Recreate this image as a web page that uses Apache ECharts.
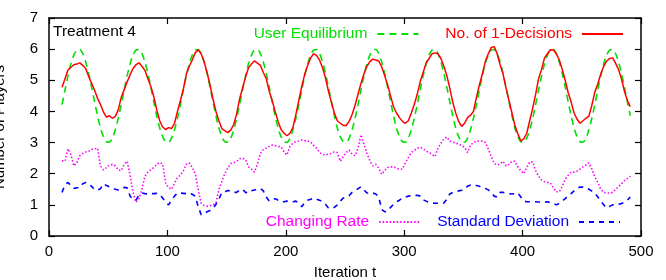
<!DOCTYPE html>
<html>
<head>
<meta charset="utf-8">
<script src="https://cdn.jsdelivr.net/npm/echarts@6/dist/echarts.min.js"></script>
<style>html,body{margin:0;padding:0;background:#fff}#c{width:666px;height:280px}</style>
</head>
<body>
<div id="c"></div>
<script>
// Samples every 2.5 iterations starting at t = 11
const tStart = 11;
const tStep = 2.5;

const xTicks = [0, 100, 200, 300, 400, 500];
const yTicks = [0, 1, 2, 3, 4, 5, 6, 7];

const userEquilibrium = [
  4.22,4.69,5.14,5.53,5.81,5.97,5.99,5.86,5.59,5.22,4.78,4.31,3.86,3.47,3.19,3.03,3.01,3.14,3.41,3.78,
  4.22,4.69,5.14,5.53,5.81,5.97,5.99,5.86,5.59,5.22,4.78,4.31,3.86,3.47,3.19,3.03,3.01,3.14,3.41,3.78,
  4.22,4.69,5.14,5.53,5.81,5.97,5.99,5.86,5.59,5.22,4.78,4.31,3.86,3.47,3.19,3.03,3.01,3.14,3.41,3.78,
  4.22,4.69,5.14,5.53,5.81,5.97,5.99,5.86,5.59,5.22,4.78,4.31,3.86,3.47,3.19,3.03,3.01,3.14,3.41,3.78,
  4.22,4.69,5.14,5.53,5.81,5.97,5.99,5.86,5.59,5.22,4.78,4.31,3.86,3.47,3.19,3.03,3.01,3.14,3.41,3.78,
  4.22,4.69,5.14,5.53,5.81,5.97,5.99,5.86,5.59,5.22,4.78,4.31,3.86,3.47,3.19,3.03,3.01,3.14,3.41,3.78,
  4.22,4.69,5.14,5.53,5.81,5.97,5.99,5.86,5.59,5.22,4.78,4.31,3.86,3.47,3.19,3.03,3.01,3.14,3.41,3.78,
  4.22,4.69,5.14,5.53,5.81,5.97,5.99,5.86,5.59,5.22,4.78,4.31,3.86,3.47,3.19,3.03,3.01,3.14,3.41,3.78,
  4.22,4.69,5.14,5.53,5.81,5.97,5.99,5.86,5.59,5.22,4.78,4.31,3.86,3.47,3.19,3.03,3.01,3.14,3.41,3.78,
  4.22,4.69,5.14,5.53,5.81,5.97,5.99,5.86,5.59,5.22,4.78,4.31,3.86
];

const oneDecisions = [
  4.78,5.05,5.33,5.42,5.50,5.52,5.56,5.48,5.38,5.12,
  4.90,4.68,4.42,4.22,3.98,3.82,3.86,3.78,3.84,4.05,
  4.45,4.70,4.95,5.18,5.38,5.50,5.56,5.45,5.32,5.05,
  4.80,4.48,4.05,3.70,3.50,3.42,3.48,3.45,3.62,4.00,
  4.35,4.72,5.20,5.45,5.65,5.88,5.98,5.85,5.60,5.25,
  4.85,4.40,4.00,3.70,3.45,3.38,3.32,3.40,3.58,3.92,
  4.40,4.75,5.10,5.40,5.52,5.62,5.55,5.48,5.25,5.05,
  4.65,4.35,4.00,3.68,3.42,3.30,3.22,3.30,3.48,3.90,
  4.35,4.80,5.20,5.48,5.72,5.85,5.80,5.65,5.40,5.08,
  4.65,4.30,3.95,3.70,3.62,3.55,3.55,3.68,3.90,4.20,
  4.55,4.90,5.20,5.45,5.60,5.68,5.65,5.62,5.43,5.15,
  4.85,4.50,4.15,3.95,3.80,3.68,3.62,3.70,3.95,4.22,
  4.55,4.95,5.25,5.55,5.70,5.85,5.88,5.85,5.70,5.45,
  5.15,4.75,4.30,3.95,3.68,3.52,3.62,3.80,3.88,4.00,
  4.45,4.85,5.20,5.60,5.85,6.05,6.08,5.85,5.50,5.20,
  4.75,4.35,3.95,3.55,3.28,3.05,3.12,3.30,3.70,4.10,
  4.55,5.05,5.35,5.72,5.85,5.98,5.97,5.85,5.65,5.35,
  5.00,4.60,4.30,3.95,3.75,3.62,3.70,3.78,3.85,4.20,
  4.62,4.88,5.20,5.45,5.62,5.70,5.72,5.55,5.35,5.05,
  4.65,4.35,4.15
];

const changingRate = [
  2.42,2.40,2.80,2.62,2.25,2.35,2.58,2.65,2.70,2.72,
  2.78,2.80,2.82,2.25,2.12,2.20,2.28,2.30,2.25,2.12,
  2.10,2.30,2.40,1.96,1.40,1.08,1.20,1.50,1.92,2.05,
  2.12,2.20,2.30,2.36,2.32,1.70,1.55,1.50,1.70,1.88,
  1.95,2.10,2.30,2.35,2.20,2.00,1.50,1.05,0.98,0.96,
  0.97,1.00,1.05,1.50,1.75,2.00,2.18,2.33,2.35,2.40,
  2.48,2.50,2.45,2.22,2.15,2.05,2.30,2.65,2.78,2.82,
  2.88,2.92,2.90,2.88,2.86,2.70,2.60,2.88,2.98,3.03,
  3.05,3.08,3.06,3.05,3.02,2.90,2.82,2.68,2.62,2.60,
  2.63,2.65,2.70,2.68,2.40,2.55,2.68,2.76,2.62,2.58,
  2.82,3.25,2.95,2.65,2.42,2.25,2.30,2.18,1.98,2.10,
  2.20,2.22,2.22,2.18,2.14,2.15,2.35,2.52,2.68,2.75,
  2.82,2.85,2.80,2.73,2.68,2.62,2.55,2.82,2.98,3.12,
  3.18,3.05,3.02,2.98,2.96,2.90,2.85,2.68,2.92,3.00,
  3.05,3.04,3.05,3.00,2.80,2.55,2.33,2.28,2.32,2.40,
  2.25,2.30,2.40,2.40,2.22,2.10,2.00,2.20,2.38,2.38,
  2.10,1.92,1.80,1.74,1.72,1.70,1.55,1.42,1.42,1.60,
  1.82,1.95,2.05,2.05,2.08,2.15,2.22,2.28,2.35,2.15,
  1.90,1.72,1.50,1.40,1.38,1.38,1.40,1.50,1.58,1.68,
  1.78,1.85,1.92
];

const stdDeviation = [
  1.40,1.65,1.72,1.62,1.53,1.55,1.55,1.68,1.72,1.65,
  1.60,1.48,1.48,1.52,1.68,1.62,1.58,1.55,1.50,1.48,
  1.52,1.56,1.55,1.28,1.18,1.15,1.32,1.38,1.36,1.35,
  1.36,1.36,1.37,1.33,1.22,1.08,1.00,1.15,1.28,1.38,
  1.38,1.37,1.36,1.38,1.34,1.28,0.95,0.68,0.72,0.78,
  0.82,0.88,1.02,1.18,1.40,1.42,1.46,1.45,1.40,1.40,
  1.48,1.50,1.40,1.38,1.45,1.48,1.50,1.53,1.45,1.25,
  1.12,1.15,1.20,1.15,1.10,1.10,1.12,1.10,1.10,1.12,
  1.05,0.94,1.08,1.15,1.18,1.22,1.18,1.15,1.10,1.02,
  0.90,0.90,0.92,1.00,1.12,1.22,1.25,1.30,1.40,1.45,
  1.52,1.58,1.48,1.38,1.38,1.38,1.35,1.25,0.85,0.78,
  0.80,0.92,1.02,1.10,1.15,1.22,1.25,1.28,1.30,1.30,
  1.31,1.28,1.16,1.12,1.08,1.06,1.05,1.05,1.05,1.06,
  1.18,1.35,1.40,1.42,1.45,1.47,1.50,1.60,1.64,1.63,
  1.62,1.60,1.56,1.53,1.48,1.40,1.28,1.25,1.40,1.40,
  1.38,1.36,1.35,1.36,1.38,1.25,1.12,1.10,1.10,1.10,
  1.10,1.09,1.08,1.09,1.10,1.07,1.04,1.00,1.05,1.12,
  1.20,1.30,1.36,1.45,1.53,1.57,1.57,1.55,1.50,1.44,
  1.38,1.25,1.12,1.00,0.90,0.95,1.00,1.00,1.02,1.04,
  1.08,1.15,1.25
];

const FONT = 'Liberation Sans, Arial, Helvetica, sans-serif';
const GREEN = '#00e000', RED = '#ff0000', MAGENTA = '#ff00ff', BLUE = '#0000ff';

function pairs(vals) { return vals.map((v, i) => [tStart + i * tStep, v]); }

const chart = echarts.init(document.getElementById('c'), null, { renderer: 'canvas' });

const axisCommon = {
  type: 'value',
  axisLine: { show: true, onZero: false, lineStyle: { color: '#000', width: 1.5 } },
  axisTick: { show: true, inside: true, length: 6, lineStyle: { color: '#000', width: 1.2 } },
  splitLine: { show: false },
  axisLabel: { color: '#000', fontSize: 15, fontFamily: FONT }
};

const legendCommon = {
  align: 'right', itemWidth: 41, itemHeight: 14, icon: 'inherit',
  itemStyle: { opacity: 0, borderWidth: 0 },
  textStyle: { fontSize: 15.5, fontFamily: FONT, padding: [0, 5, 0, 0] }
};

const option = {
  animation: false,
  backgroundColor: '#fff',
  textStyle: { fontFamily: FONT },
  grid: { left: 49, right: 25, top: 18, bottom: 44, show: false, containLabel: false, outerBoundsMode: 'none' },
  title: {
    text: 'Treatment 4', left: 53, top: 24, padding: 0,
    textStyle: { fontSize: 15.5, fontWeight: 'normal', color: '#000', fontFamily: FONT }
  },
  legend: [
    Object.assign({}, legendCommon, {
      right: 37, top: 21, itemGap: 26,
      data: [
        { name: 'User Equilibrium', textStyle: { color: GREEN } },
        { name: 'No. of 1-Decisions', textStyle: { color: RED } }
      ]
    }),
    Object.assign({}, legendCommon, {
      right: 40, top: 209, itemGap: 16,
      data: [
        { name: 'Changing Rate', textStyle: { color: MAGENTA } },
        { name: 'Standard Deviation', textStyle: { color: BLUE } }
      ]
    })
  ],
  xAxis: [
    Object.assign({}, axisCommon, {
      min: 0, max: 500, interval: 100, position: 'bottom',
      axisLabel: Object.assign({}, axisCommon.axisLabel, { margin: 8,
        formatter: v => xTicks.includes(v) ? String(v) : '' }),
      name: 'Iteration t', nameLocation: 'middle', nameGap: 29,
      nameTextStyle: { fontSize: 15, color: '#000', fontFamily: FONT }
    }),
    Object.assign({}, axisCommon, {
      min: 0, max: 500, interval: 100, position: 'top',
      axisLabel: { show: false }
    })
  ],
  yAxis: [
    Object.assign({}, axisCommon, {
      min: 0, max: 7, interval: 1, position: 'left',
      axisLabel: Object.assign({}, axisCommon.axisLabel, { margin: 11,
        formatter: v => yTicks.includes(v) ? String(v) : '' }),
      name: 'Number of Players', nameLocation: 'middle', nameGap: 42, nameRotate: 90,
      nameTextStyle: { fontSize: 15, color: '#000', fontFamily: FONT }
    }),
    Object.assign({}, axisCommon, {
      min: 0, max: 7, interval: 1, position: 'right',
      axisLabel: { show: false }
    })
  ],
  series: [
    {
      name: 'User Equilibrium', type: 'line', data: pairs(userEquilibrium),
      symbol: 'none', smooth: 0.3, z: 2,
      lineStyle: { color: GREEN, width: 1.6, type: [7, 5] }, itemStyle: { color: GREEN }
    },
    {
      name: 'No. of 1-Decisions', type: 'line', data: pairs(oneDecisions),
      symbol: 'none', z: 3,
      lineStyle: { color: RED, width: 1.5 }, itemStyle: { color: RED }
    },
    {
      name: 'Changing Rate', type: 'line', data: pairs(changingRate),
      symbol: 'none', z: 2,
      lineStyle: { color: MAGENTA, width: 1.6, type: [1.5, 2] }, itemStyle: { color: MAGENTA }
    },
    {
      name: 'Standard Deviation', type: 'line', data: pairs(stdDeviation),
      symbol: 'none', z: 2,
      lineStyle: { color: BLUE, width: 1.6, type: [5, 5] }, itemStyle: { color: BLUE }
    }
  ]
};

chart.setOption(option);
</script>
</body>
</html>
